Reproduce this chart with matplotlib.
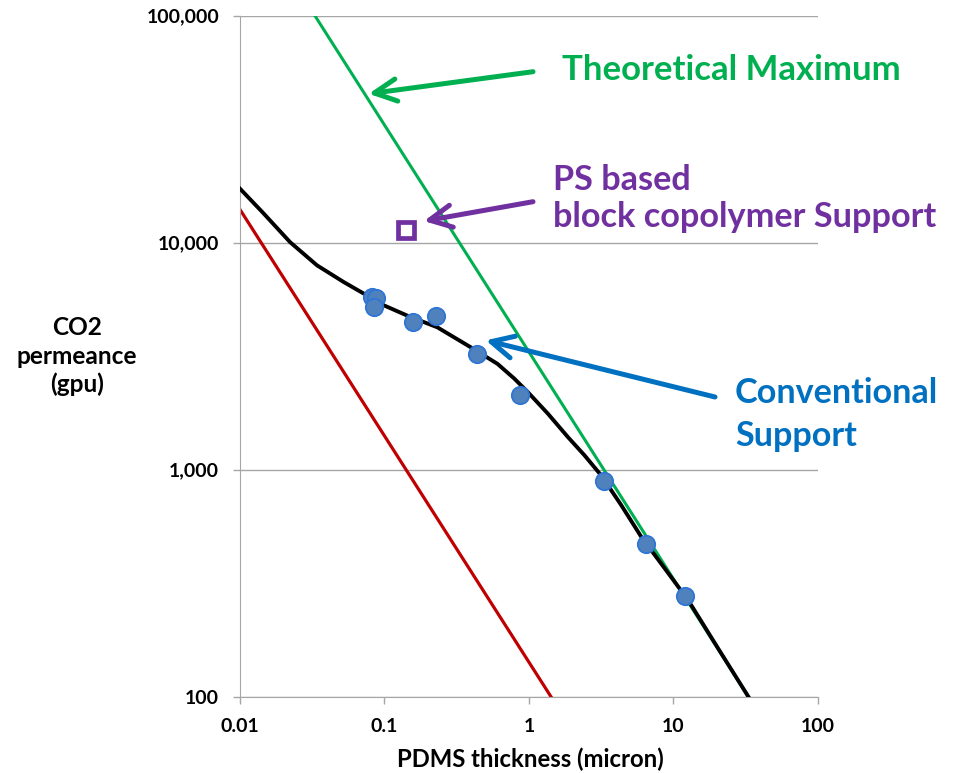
import matplotlib
matplotlib.use("Agg")
import matplotlib.pyplot as plt
from matplotlib.ticker import FixedLocator, FixedFormatter, NullLocator

plt.rcParams['font.family'] = ['Lato', 'DejaVu Sans']
plt.rcParams['font.weight'] = 'bold'

# measured membranes on conventional support
thick_meas = [0.082, 0.088, 0.085, 0.158, 0.226, 0.434, 0.866, 3.28, 6.49, 11.98]
perm_meas = [5780, 5710, 5190, 4460, 4770, 3240, 2140, 888, 469, 278]

# PS based block copolymer support
thick_ps = [0.1415]
perm_ps = [11400]

# model curve
thick_fit = [0.01, 0.0145, 0.0222, 0.0341, 0.0522, 0.0718, 0.0889, 0.144, 0.232,
             0.396, 0.606, 0.791, 0.98, 1.35, 1.86, 2.42, 3.16, 4.35, 6.0, 8.71,
             12.65, 20.4, 33.0]
perm_fit = [17300, 13500, 10060, 7950, 6710, 5970, 5460, 4770, 4240,
            3460, 2925, 2520, 2200, 1767, 1392, 1158, 944, 698, 505, 367,
            266, 163, 100]

# theoretical maximum and lower line
thick_max = [0.033, 33.0]
perm_max = [100000, 100]
thick_low = [0.01, 1.42]
perm_low = [14000, 100]

xticks = [0.01, 0.1, 1, 10, 100]
xlabels = ['0.01', '0.1', '1', '10', '100']
yticks = [100, 1000, 10000, 100000]
ylabels = ['100', '1,000', '10,000', '100,000']

W, H = 955, 773
fig = plt.figure(figsize=(W / 100, H / 100), dpi=100)
ax = fig.add_axes([0.2513, 0.0987, 0.6052, 0.881])

ax.plot(thick_low, perm_low, color='#C00000', lw=2.3, zorder=2)
ax.plot(thick_max, perm_max, color='#00B050', lw=2.2, zorder=2)
ax.plot(thick_fit, perm_fit, color='black', lw=2.8, zorder=3,
        solid_joinstyle='round')
ax.plot(thick_meas, perm_meas, 'o', ms=12.5, mfc='#4F81BD', mec='#2E75D6',
        mew=1.3, zorder=4)
ax.plot(thick_ps, perm_ps, 's', ms=11, mfc='white', mec='#7030A0',
        mew=3.4, zorder=4)

ax.set_xscale('log')
ax.set_yscale('log')
ax.set_xlim(0.01, 100)
ax.set_ylim(100, 100000)
ax.xaxis.set_major_locator(FixedLocator(xticks))
ax.xaxis.set_major_formatter(FixedFormatter(xlabels))
ax.yaxis.set_major_locator(FixedLocator(yticks))
ax.yaxis.set_major_formatter(FixedFormatter(ylabels))
ax.xaxis.set_minor_locator(NullLocator())
ax.yaxis.set_minor_locator(NullLocator())
ax.tick_params(axis='both', labelsize=14, colors='#A6A6A6', labelcolor='black',
               length=5, width=1, direction='out', pad=10)
ax.grid(axis='y', color='#A6A6A6', lw=1)
ax.set_axisbelow(True)
for s in ['top', 'right']:
    ax.spines[s].set_visible(False)
for s in ['left', 'bottom']:
    ax.spines[s].set_color('#A6A6A6')
for lab in ax.get_xticklabels() + ax.get_yticklabels():
    lab.set_fontweight('bold')

renderer = fig.canvas.get_renderer()


def px(x, y):
    # pixel position (from top-left) to figure fraction
    return x / W, 1 - y / H


def fit_size(t, width_px):
    # font size that gives the text the width seen in the reference
    w = t.get_window_extent(renderer).width
    return t.get_fontsize() * width_px / w


# axis titles
xl = fig.text(*px(530, 759), 'PDMS thickness (micron)', fontsize=16,
              fontweight='bold', ha='center', va='center')
xl.set_fontsize(fit_size(xl, 268))

ylab = []
for txt, yb in [('CO2', 335), ('permeance', 363.5), ('(gpu)', 392)]:
    ylab.append(fig.text(*px(77, yb), txt, fontsize=16, fontweight='bold',
                         ha='center', va='baseline'))
s = fit_size(ylab[1], 121)
for t in ylab:
    t.set_fontsize(s)

# arrows
arrow_kw = dict(arrowstyle='->,head_length=1.6,head_width=0.8', lw=3.6,
                shrinkA=0, shrinkB=0, capstyle='round', joinstyle='round')
ax.annotate('', xy=(0.0778, 45300), xycoords='data',
            xytext=px(533, 71.7), textcoords='figure fraction',
            arrowprops=dict(color='#00B050', **arrow_kw))
ax.annotate('', xy=(0.1875, 12450), xycoords='data',
            xytext=px(533, 201.7), textcoords='figure fraction',
            arrowprops=dict(color='#7030A0', **arrow_kw))
ax.annotate('', xy=(0.502, 3715), xycoords='data',
            xytext=px(715, 397), textcoords='figure fraction',
            arrowprops=dict(color='#0070C0', **arrow_kw))

# callout texts: (lines, colour, left, baselines, width of widest line)
callouts = [
    (['Theoretical Maximum'], '#00B050', 562, [80], 339),
    (['PS based', 'block copolymer Support'], '#7030A0', 553, [190, 227], 383),
    (['Conventional', 'Support'], '#0070C0', 735, [403, 446], 203),
]
for lines, col, x, ybs, wref in callouts:
    ts = [fig.text(*px(x, yb), txt, color=col, fontsize=24, fontweight='bold',
                   ha='left', va='baseline') for txt, yb in zip(lines, ybs)]
    widest = max(ts, key=lambda t: t.get_window_extent(renderer).width)
    s = fit_size(widest, wref)
    for t in ts:
        t.set_fontsize(s)

fig.savefig('out.png', dpi=100)
